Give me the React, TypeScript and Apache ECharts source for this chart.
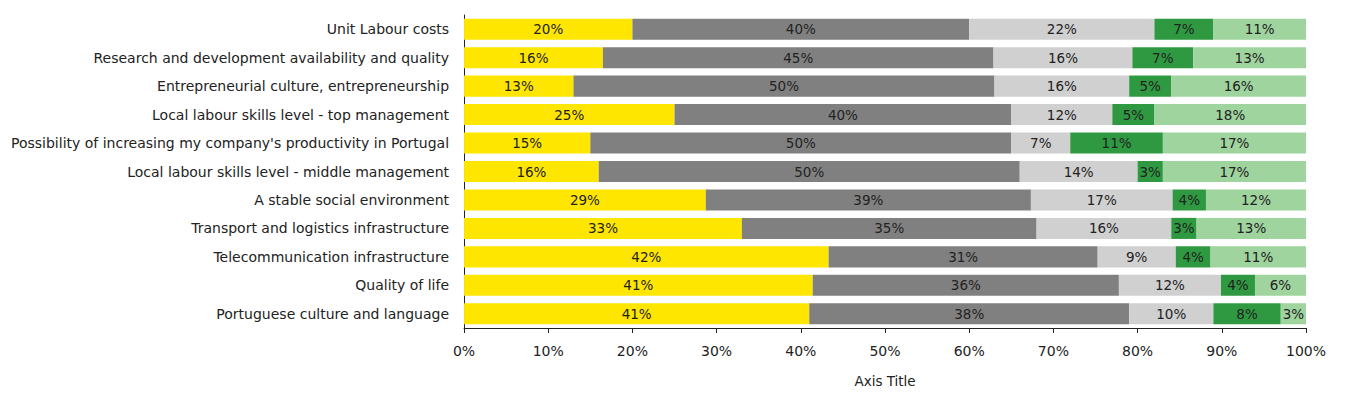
import React, { useEffect, useRef } from "react";
import * as echarts from "echarts";

const categories = [
  "Unit Labour costs",
  "Research and development availability and quality",
  "Entrepreneurial culture, entrepreneurship",
  "Local labour skills level - top management",
  "Possibility of increasing my company's productivity in Portugal",
  "Local labour skills level - middle management",
  "A stable social environment",
  "Transport and logistics infrastructure",
  "Telecommunication infrastructure",
  "Quality of life",
  "Portuguese culture and language",
];

const seriesNames = ["S1", "S2", "S3", "S4", "S5"];
const s1 = [20, 16, 13, 25, 15, 16, 29, 33, 42, 41, 41];
const s2 = [40, 45, 50, 40, 50, 50, 39, 35, 31, 36, 38];
const s3 = [22, 16, 16, 12, 7, 14, 17, 16, 9, 12, 10];
const s4 = [7, 7, 5, 5, 11, 3, 4, 3, 4, 4, 8];
const s5 = [11, 13, 16, 18, 17, 17, 12, 13, 11, 6, 3];
const colors = ["#FFE600", "#808080", "#D0D0D0", "#2E9940", "#9FD49E"];
const xTicks = [0, 10, 20, 30, 40, 50, 60, 70, 80, 90, 100];

export default function App() {
  const ref = useRef<HTMLDivElement>(null);
  useEffect(() => {
    if (!ref.current) return;
    const chart = echarts.init(ref.current, null, { renderer: "svg" });
    const raw = [s1, s2, s3, s4, s5];
    const totals = categories.map((_, i) => raw.reduce((a, s) => a + s[i], 0));
    const font = "'DejaVu Sans', sans-serif";
    chart.setOption({
      animation: false,
      textStyle: { fontFamily: font },
      grid: { left: 454, right: 31, top: 7, bottom: 86 },
      xAxis: {
        type: "value",
        min: xTicks[0],
        max: xTicks[xTicks.length - 1],
        interval: 10,
        name: "Axis Title",
        nameLocation: "middle",
        nameGap: 46,
        nameTextStyle: { color: "#222", fontSize: 13.5, fontFamily: font },
        axisLine: { show: true, lineStyle: { color: "#222", width: 1 } },
        axisTick: { show: true, length: 5, lineStyle: { color: "#222" } },
        axisLabel: { color: "#222", fontSize: 14, margin: 16, formatter: "{value}%", fontFamily: font },
        splitLine: { show: false },
      },
      yAxis: {
        type: "category",
        data: categories,
        inverse: true,
        axisLine: { show: true, lineStyle: { color: "#222", width: 1 } },
        axisTick: { show: false },
        axisLabel: { color: "#222", fontSize: 14, margin: 15, fontFamily: font },
      },
      series: raw.map((s, k) => ({
        name: seriesNames[k],
        type: "bar",
        stack: "total",
        barCategoryGap: "26%",
        itemStyle: { color: colors[k] },
        label: {
          show: true,
          position: "inside",
          color: "#222",
          fontSize: 13.5,
          fontFamily: font,
          formatter: (p: any) => s[p.dataIndex] + "%",
        },
        data: s.map((v, i) => (v / totals[i]) * 100),
      })),
    });
    return () => chart.dispose();
  }, []);
  return <div ref={ref} style={{ width: 1329, height: 406 }} />;
}
